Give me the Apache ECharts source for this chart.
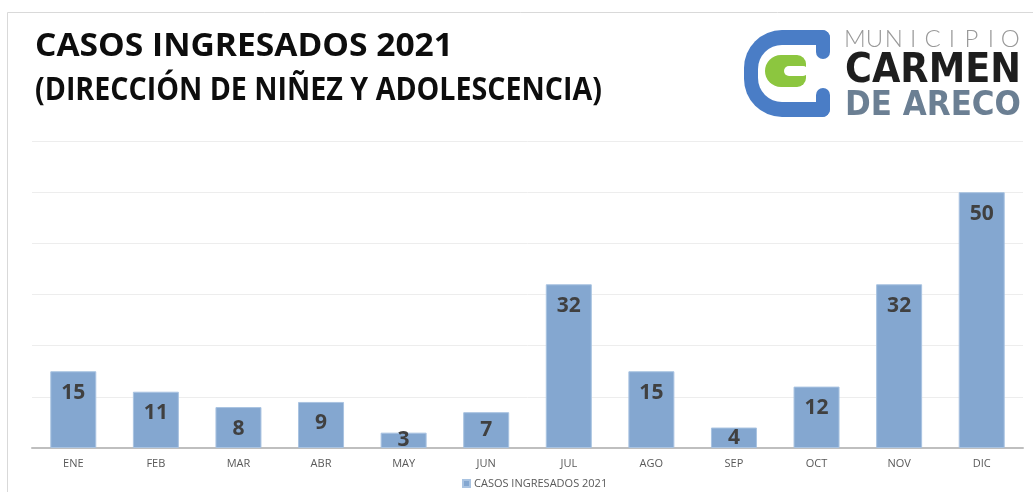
<!DOCTYPE html>
<html>
<head>
<meta charset="utf-8">
<script src="https://cdn.jsdelivr.net/npm/echarts@6/dist/echarts.min.js"></script>
<style>
html,body{margin:0;padding:0;background:#fff;}
#c{width:1033px;height:492px;}
</style>
</head>
<body>
<div id="c"></div>
<script>
const categories = ['ENE','FEB','MAR','ABR','MAY','JUN','JUL','AGO','SEP','OCT','NOV','DIC'];
const values = [15, 11, 8, 9, 3, 7, 32, 15, 4, 12, 32, 50];
const seriesName = 'CASOS INGRESADOS 2021';
const titleLine1 = 'CASOS INGRESADOS 2021';
const titleLine2 = '(DIRECCIÓN DE NIÑEZ Y ADOLESCENCIA)';
const logoTop = 'MUNICIPIO';
const logoMid = 'CARMEN';
const logoBot = 'DE ARECO';

const ctx = document.createElement('canvas').getContext('2d');
function measure(font, text){ ctx.font = font; return ctx.measureText(text).width; }
function fitText(text, x, y, font, fill, targetW){
  const w = measure(font, text);
  return {type:'text', x:x, y:y, scaleX: targetW / w, z: 10,
    style:{text:text, font:font, fill:fill, verticalAlign:'middle', align:'left'}};
}

const graphics = [];
// frame
graphics.push({type:'rect', shape:{x:7.5,y:12.5,width:1100,height:600}, style:{fill:'none', stroke:'#d9d9d9', lineWidth:1}, z:0});
// title
const tFont = 'bold 32px "Open Sans"';
graphics.push(fitText(titleLine1, 35, 47, tFont, '#0d0d0d', 418));
graphics.push(fitText(titleLine2, 35, 91, tFont, '#0d0d0d', 567));
// logo C
const blue = '#4a7dc6', green = '#8cc63f';
graphics.push({type:'rect', shape:{x:744,y:30,width:86,height:87,r:[38,8,8,38]}, style:{fill:blue}, z:5});
graphics.push({type:'rect', shape:{x:758,y:45,width:60,height:57,r:[24,0,0,24]}, style:{fill:'#fff'}, z:6});
graphics.push({type:'rect', shape:{x:814,y:45,width:18,height:57}, style:{fill:'#fff'}, z:6});
graphics.push({type:'rect', shape:{x:816,y:30,width:14,height:29,r:[0,8,7,7]}, style:{fill:blue}, z:7});
graphics.push({type:'rect', shape:{x:816,y:88,width:14,height:29,r:[7,7,8,0]}, style:{fill:blue}, z:7});
graphics.push({type:'rect', shape:{x:765,y:55,width:41,height:32,r:[16,9,9,16]}, style:{fill:green}, z:8});
graphics.push({type:'rect', shape:{x:784,y:66,width:24,height:10,r:5}, style:{fill:'#fff'}, z:9});
// logo text
for (let i = 0; i < logoTop.length; i++) {
  graphics.push({type:'text', x: 855 + i*19.4, y: 39, z:10,
    style:{text: logoTop[i], font:'300 24px Lato', fill:'#999999', align:'center', verticalAlign:'middle'}});
}
graphics.push(fitText(logoMid, 845, 72, 'bold 40px "DejaVu Sans"', '#1e1e1e', 176));
graphics.push(fitText(logoBot, 845, 106, 'bold 34px "DejaVu Sans"', '#6b7f93', 176));

const chart = echarts.init(document.getElementById('c'), null, {renderer:'canvas'});
chart.setOption({
  animation: false,
  backgroundColor: '#fff',
  graphic: graphics,
  grid: {left: 32, right: 10, top: 141, bottom: 44, containLabel: false},
  legend: {
    data: [seriesName], left: 457, top: 473, icon: 'rect', itemWidth: 7, itemHeight: 7, itemGap: 4,
    textStyle: {fontFamily: '"Open Sans"', fontSize: 11, color: '#595959', padding:[0,0,0,-1]}
  },
  xAxis: {
    type: 'category', data: categories,
    axisLine: {lineStyle: {color: '#bfbfbf', width: 2}},
    axisTick: {show: false},
    axisLabel: {color: '#595959', fontSize: 11, fontFamily: '"Open Sans"', margin: 10}
  },
  yAxis: {
    type: 'value', min: 0, max: 60, interval: 10,
    axisLabel: {show: false}, axisLine: {show: false}, axisTick: {show: false},
    splitLine: {lineStyle: {color: '#ededed', width: 1}}
  },
  series: [{
    name: seriesName, type: 'bar', barWidth: 46,
    itemStyle: {color: '#84a7d0', borderColor: '#a9c3e1', borderWidth: 1},
    label: {show: true, color: '#404040', fontFamily: '"Open Sans"', fontWeight: 'bold', fontSize: 21},
    data: values.map(v => ({value: v, label: {position: v < 8 ? 'inside' : 'insideTop', distance: 11}}))
  }]
});
</script>
</body>
</html>
